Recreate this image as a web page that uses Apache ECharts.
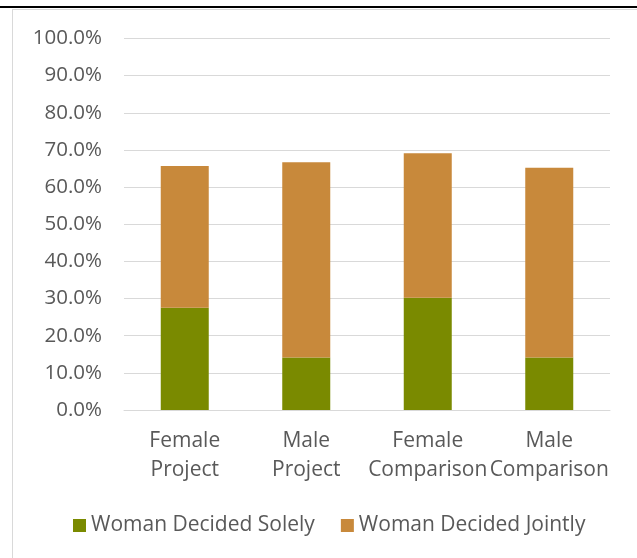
<!DOCTYPE html>
<html>
<head>
<meta charset="utf-8">
<script src="https://cdn.jsdelivr.net/npm/echarts@6/dist/echarts.min.js"></script>
<style>
  html, body { margin: 0; padding: 0; background: #fff; }
  .topline { position: absolute; left: 0; top: 6px; width: 637px; height: 2px; background: #000; }
  .frame { position: absolute; left: 12px; top: 9px; width: 640px; height: 560px;
           border-left: 1px solid #d9d9d9; border-top: 1px solid #d9d9d9; }
  #chart { position: absolute; left: 0; top: 0; width: 637px; height: 558px; }
</style>
</head>
<body>
<div class="topline"></div>
<div class="frame"></div>
<div id="chart"></div>
<script>
const categories = ['Female\nProject', 'Male\nProject', 'Female\nComparison', 'Male\nComparison']
const solely = [27.5, 14.1, 30.2, 14.1]
const jointly = [38.2, 52.6, 38.9, 51.1]
const seriesNames = ['Woman Decided Solely', 'Woman Decided Jointly']

const font = '"Open Sans", sans-serif'
const chart = echarts.init(document.getElementById('chart'))

chart.setOption({
  animation: false,
  grid: { left: 124, right: 27, top: 38.5, bottom: 148 },
  legend: {
    bottom: 17, left: 68, itemWidth: 13, itemHeight: 13, itemGap: 26,
    icon: 'rect',
    textStyle: { color: '#595959', fontSize: 21, fontFamily: font },
    data: seriesNames
  },
  xAxis: {
    type: 'category', data: categories,
    axisLine: { lineStyle: { color: '#d9d9d9', width: 1 } },
    axisTick: { show: false },
    axisLabel: { color: '#595959', fontSize: 21, fontFamily: font, lineHeight: 29,
                 margin: 17, interval: 0 }
  },
  yAxis: {
    type: 'value', min: 0, max: 100, interval: 10,
    axisLine: { show: false }, axisTick: { show: false },
    axisLabel: { color: '#595959', fontSize: 20.5, fontFamily: font, margin: 22,
                 formatter: (v) => v.toFixed(1) + '%' },
    splitLine: { lineStyle: { color: '#d9d9d9', width: 1 } }
  },
  series: [
    {
      name: seriesNames[0], type: 'bar', stack: 'total', data: solely, barWidth: 48,
      itemStyle: { color: '#7a8a00' }
    },
    {
      name: seriesNames[1], type: 'bar', stack: 'total', data: jointly, barWidth: 48,
      itemStyle: { color: '#c8893b' }
    }
  ]
})
</script>
</body>
</html>
